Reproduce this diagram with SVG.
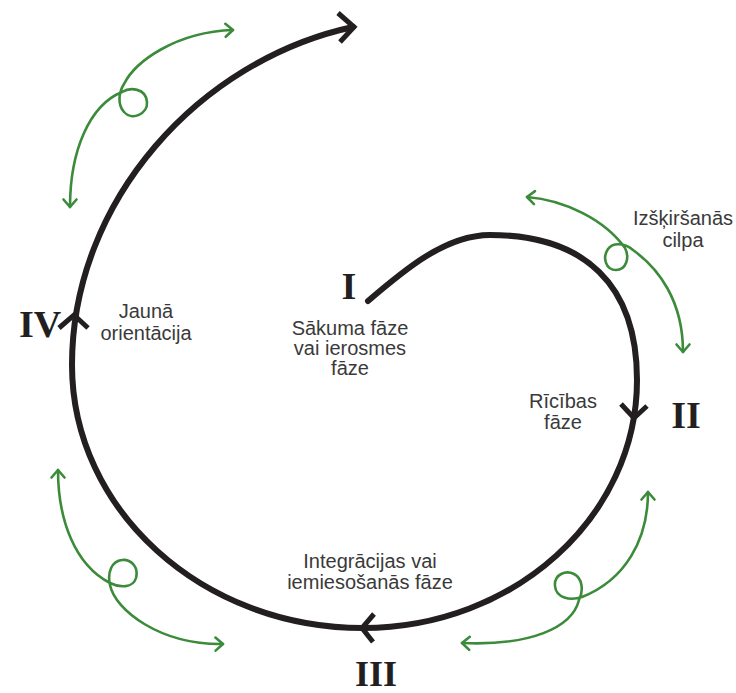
<svg xmlns="http://www.w3.org/2000/svg" width="736" height="693" viewBox="0 0 736 693">
<style>
.spiral{fill:none;stroke:#231f20;stroke-width:6;stroke-linecap:round;stroke-linejoin:round}
.chev{fill:none;stroke:#231f20;stroke-width:5;stroke-linecap:butt;stroke-linejoin:miter}
.loop{fill:none;stroke:#3b8b3b;stroke-width:2.6;stroke-linecap:round;stroke-linejoin:round;marker-start:url(#ga);marker-end:url(#ga)}
.num{font-family:"Liberation Serif","Times New Roman",serif;font-weight:bold;font-size:38px;fill:#231f20;text-anchor:middle}
.lbl{font-family:"Liberation Sans",Arial,sans-serif;font-size:20px;fill:#3a3a3a;text-anchor:middle}
</style>
<defs>
<marker id="ga" markerWidth="20" markerHeight="20" refX="10" refY="10" orient="auto-start-reverse" markerUnits="userSpaceOnUse">
<path d="M2.5,3.5 L10,10 L2.5,16.5" fill="none" stroke="#3b8b3b" stroke-width="2.6" stroke-linecap="round" stroke-linejoin="round"/>
</marker>
</defs>
<rect width="736" height="693" fill="#ffffff"/>
<g id="connectors">
<path id="spiral" class="spiral" d="M368,301 C403,271 445,235 490,235 C585,235 637,285 637,380 C637,517 514,628 363,628 C202,628 72,510 72,365 C72,200 200,60 353,27"/>
<path id="spiral-end-arrow" class="chev" d="M338,13 L354,27 L340,42"/>
<path id="arrow-II" class="chev" d="M621,404 L634,418 L647,406"/>
<path id="arrow-III" class="chev" d="M374,614 L362,628 L373,642"/>
<path id="arrow-IV" class="chev" d="M59,328 L74,315 L88,328"/>
<path id="loop-top-left" class="loop" d="M70,207 C70,150 90,105 122,92 C130,87 146,88 147,102 C148,114 132,121 124,112 C117,104 119,92 124,84 C135,62 175,32 233,30"/>
<path id="loop-right" class="loop" d="M527,197 C565,200 605,220 625,248 C630,258 626,270 616,270 C606,270 602,258 608,249 C613,242 625,243 633,250 C658,268 683,300 683,352"/>
<path id="loop-bottom-right" class="loop" d="M648,492 C648,540 625,580 582,597 C570,601 556,598 555,586 C554,574 566,570 574,574 C582,578 584,590 579,600 C572,628 530,646 462,643"/>
<path id="loop-bottom-left" class="loop" d="M58,470 C58,520 75,565 110,583 C120,588 133,588 136,578 C139,566 130,559 122,560 C112,561 107,572 110,585 C115,610 160,645 223,644"/>
</g>
<g id="phase-I">
<text class="num" x="349" y="299">I</text>
<text class="lbl" x="350" y="335">Sākuma fāze</text>
<text class="lbl" x="350" y="355">vai ierosmes</text>
<text class="lbl" x="350" y="375">fāze</text>
</g>
<g id="phase-II">
<text class="num" x="686" y="428">II</text>
<text class="lbl" x="563" y="408">Rīcības</text>
<text class="lbl" x="563" y="429">fāze</text>
</g>
<g id="phase-III">
<text class="num" x="376" y="686" style="font-size:36px">III</text>
<text class="lbl" x="370" y="568">Integrācijas vai</text>
<text class="lbl" x="370" y="589">iemiesošanās fāze</text>
</g>
<g id="phase-IV">
<text class="num" x="40" y="337">IV</text>
<text class="lbl" x="146" y="318">Jaunā</text>
<text class="lbl" x="146" y="340">orientācija</text>
</g>
<g id="loop-label">
<text class="lbl" x="683" y="225">Izšķiršanās</text>
<text class="lbl" x="683" y="247">cilpa</text>
</g>
</svg>
